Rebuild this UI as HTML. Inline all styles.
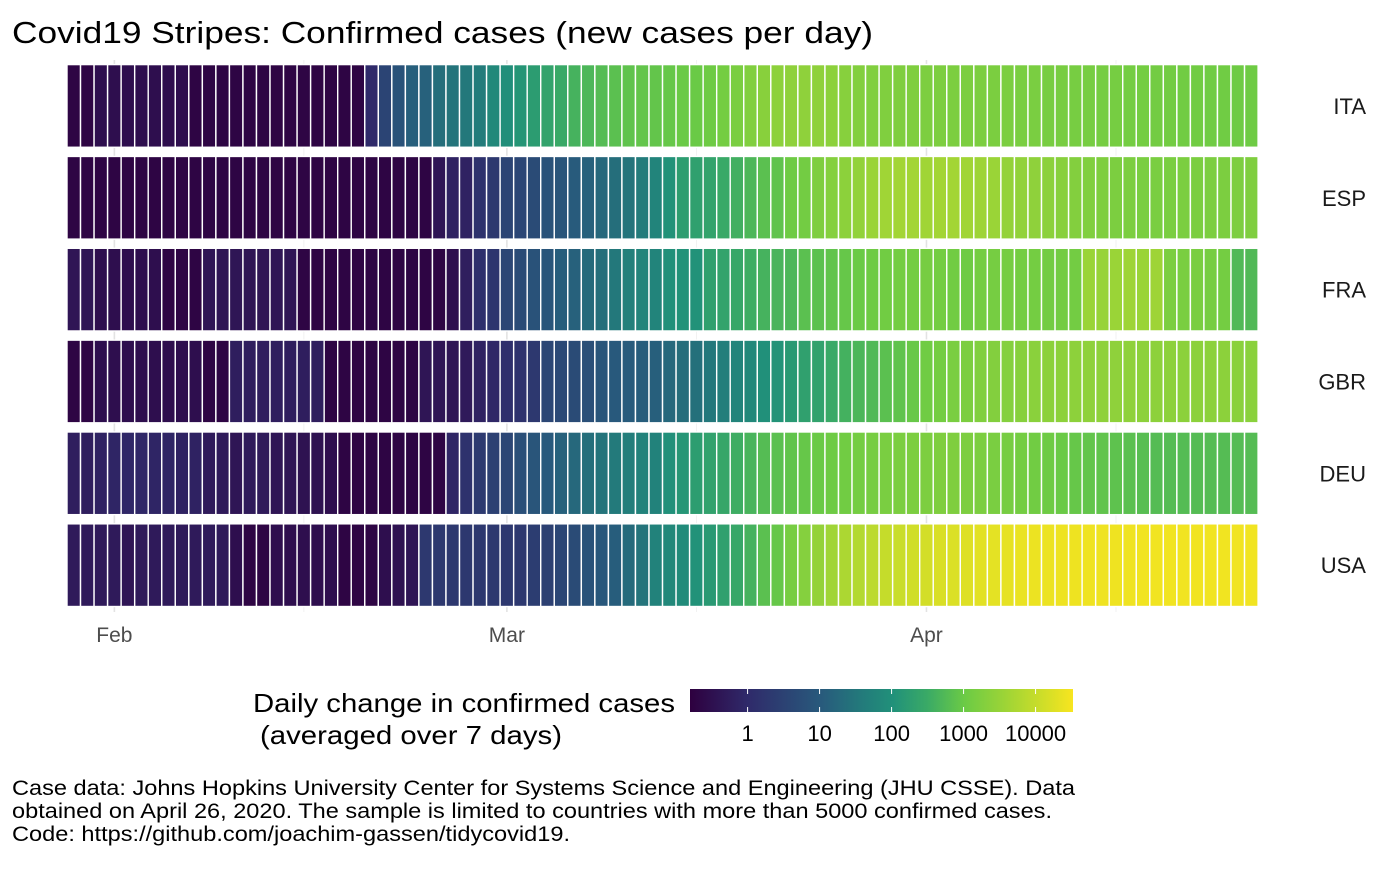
<!DOCTYPE html>
<html><head><meta charset="utf-8">
<style>
body{margin:0;background:#fff;width:1400px;height:865px;overflow:hidden;font-family:"Liberation Sans",Arial,sans-serif;}
svg text{font-family:"Liberation Sans",Arial,sans-serif;}
</style></head>
<body>
<svg id="chart" width="1400" height="865">
<defs>
<linearGradient id="vir" x1="0" x2="1" y1="0" y2="0">
<stop offset="0" stop-color="#2e003f"/><stop offset="0.151" stop-color="#2f2a6a"/><stop offset="0.342" stop-color="#285a7c"/><stop offset="0.44" stop-color="#23787b"/><stop offset="0.53" stop-color="#21917a"/><stop offset="0.62" stop-color="#3aaa66"/><stop offset="0.718" stop-color="#6ccb45"/><stop offset="0.81" stop-color="#97d338"/><stop offset="0.903" stop-color="#c5dc2b"/><stop offset="1" stop-color="#f8e51f"/>
</linearGradient>
</defs>
<text x="12" y="43" font-size="31" fill="#000" textLength="861" lengthAdjust="spacingAndGlyphs">Covid19 Stripes: Confirmed cases (new cases per day)</text>
<g id="grid"></g>
<g id="tiles"></g>
<g id="ylabels"></g>
<g id="xlabels"></g>
<g>
<text x="253" y="712" font-size="26" textLength="422" lengthAdjust="spacingAndGlyphs">Daily change in confirmed cases</text>
<text x="260" y="744" font-size="26" textLength="302" lengthAdjust="spacingAndGlyphs">(averaged over 7 days)</text>
<rect x="690" y="689" width="383" height="23" fill="url(#vir)"/>
<g id="legendticks"></g>
</g>
<text font-size="21" fill="#000">
<tspan x="12" y="795" textLength="1063" lengthAdjust="spacingAndGlyphs">Case data: Johns Hopkins University Center for Systems Science and Engineering (JHU CSSE). Data</tspan>
<tspan x="12" y="818" textLength="1040" lengthAdjust="spacingAndGlyphs">obtained on April 26, 2020. The sample is limited to countries with more than 5000 confirmed cases.</tspan>
<tspan x="12" y="841" textLength="558" lengthAdjust="spacingAndGlyphs">Code: https://github.com/joachim-gassen/tidycovid19.</tspan>
</text>
</svg>
<script>
const countries = ["ITA","ESP","FRA","GBR","DEU","USA"];
const startDate = "2020-01-29";
const monthTicks = ["2020-02-01","2020-03-01","2020-04-01"];
const monthLabels = ["Feb","Mar","Apr"];
const minorTicks = ["2020-02-15","2020-03-15","2020-04-15"];
const legendBreaks = [1,10,100,1000,10000];
const legendLabels = ["1","10","100","1000","10000"];
const ITA = [0.2,0.2,0.3,0.3,0.3,0.3,0.3,0.3,0.3,0.2,0.2,0.2,0.2,0.2,0.2,0.2,0.2,0.2,0.2,0.2,0.2,0.2,1.0,3.5,7,13,14,23,30,35,42,70,90,127,170,232,300,425,500,600,700,780,850,850,900,1000,1000,1100,1300,1500,1800,2200,2500,2600,2600,2600,2400,2100,1900,1800,1750,1700,1700,1650,1650,1600,1600,1600,1550,1550,1500,1500,1450,1450,1400,1400,1350,1350,1300,1300,1250,1250,1200,1200,1150,1150,1100,1100];
const ESP = [0.2,0.2,0.2,0.2,0.2,0.2,0.2,0.2,0.2,0.2,0.2,0.2,0.2,0.2,0.2,0.2,0.2,0.2,0.2,0.2,0.2,0.2,0.2,0.2,0.2,0.2,0.2,0.4,0.7,0.7,1.5,2,3.5,4,5,7,8,11,14,18,23,30,42,60,110,180,200,232,300,380,500,700,780,1100,1250,1700,2000,2400,2800,3500,4000,4300,4300,4000,4300,4300,4100,3800,3500,3000,2800,2600,2400,2200,1900,1800,1700,1600,1600,1500,1500,1500,1550,1550,1600,1600,1650,1700];
const FRA = [0.4,0.4,0.3,0.3,0.3,0.3,0.3,0.2,0.2,0.2,0.4,0.4,0.4,0.4,0.4,0.4,0.4,0.2,0.2,0.2,0.2,0.2,0.2,0.2,0.2,0.2,0.2,0.2,0.3,0.6,1.3,1.7,4,5,7,8,12,14,20,24,35,50,60,60,100,110,110,200,230,280,350,420,460,500,700,720,800,900,1000,1100,1200,1300,1300,1400,1300,1200,1100,1300,1350,1350,1300,1300,1250,1250,1250,3500,3300,3500,3800,3500,3800,1600,1500,1500,1400,1300,550,550];
const GBR = [0.2,0.2,0.3,0.3,0.3,0.3,0.3,0.3,0.3,0.3,0.2,0.2,0.6,0.6,0.6,0.6,0.6,0.6,0.6,0.2,0.2,0.2,0.2,0.2,0.2,0.2,0.4,0.4,0.4,0.5,0.7,0.9,1.3,1.5,2,4,4.5,5,6,8,10,11,12,13,18,22,25,35,45,60,70,100,115,150,200,220,300,400,480,550,700,780,950,1150,1300,1500,1600,1800,1900,2000,2100,2300,2400,2500,2500,2600,2600,2600,2600,2500,2500,2500,2400,2400,2400,2400,2300,2300];
const DEU = [0.6,0.6,0.7,0.8,0.9,0.9,0.8,0.8,0.7,0.7,0.5,0.5,0.4,0.5,0.5,0.4,0.4,0.35,0.35,0.3,0.2,0.2,0.2,0.2,0.2,0.2,0.2,0.2,0.8,1.5,2.2,3,4,6,8,10,14,18,24,30,38,45,55,55,100,130,180,220,260,350,450,600,700,800,900,1000,1100,1200,1300,1400,1500,1550,1600,1650,1700,1700,1650,1600,1500,1400,1300,1200,1100,1000,900,850,800,750,700,650,600,600,600,600,600,600,600,600];
const USA = [0.5,0.5,0.5,0.5,0.4,0.5,0.5,0.5,0.5,0.5,0.5,0.5,0.3,0.2,0.2,0.3,0.3,0.3,0.3,0.3,0.2,0.2,0.2,0.3,0.35,0.4,2,2,2,2,2,2,2,2,2.5,3,4,5,7,9,12,20,30,55,70,80,110,150,200,280,420,700,900,1400,2000,3000,4000,5500,6500,8000,10000,11000,13000,14000,16000,17000,18000,20000,21000,22000,24000,25000,25000,26000,26000,27000,27000,27000,27000,28000,28000,28000,28000,28000,28000,28000,28000,28000];
const series = [ITA,ESP,FRA,GBR,DEU,USA];

const NS = "http://www.w3.org/2000/svg";
const X0 = 67, DAYW = 13.535, Y0 = 60, BAND = 91.85;
const LMIN = -0.8, LMAX = 4.52;
const t0 = Date.parse(startDate);
function dayIndex(d){return Math.round((Date.parse(d)-t0)/86400000);}
function xScale(i){return X0 + (i+0.5)*DAYW;}
function yScale(r){return Y0 + (r+0.5)*BAND;}
function legendX(v){return 690 + (Math.log10(v)-LMIN)/(LMAX-LMIN)*383;}
const stopPos=[0,0.151,0.342,0.44,0.53,0.62,0.718,0.81,0.903,1];
const stops=["#2e003f","#2f2a6a","#285a7c","#23787b","#21917a","#3aaa66","#6ccb45","#97d338","#c5dc2b","#f8e51f"];
function hex(h){return [1,3,5].map(k=>parseInt(h.substr(k,2),16));}
function color(v){
  let t=(Math.log10(v)-LMIN)/(LMAX-LMIN); t=Math.max(0,Math.min(1,t));
  let i=0; while(i<stopPos.length-2 && t>stopPos[i+1]) i++;
  const f=(t-stopPos[i])/(stopPos[i+1]-stopPos[i]);
  const a=hex(stops[i]), b=hex(stops[i+1]);
  return "rgb("+a.map((c,k)=>Math.round(c+(b[k]-c)*f)).join(",")+")";
}
function mk(tag,attrs,parent){const e=document.createElementNS(NS,tag);for(const k in attrs)e.setAttribute(k,attrs[k]);parent.appendChild(e);return e;}

const grid=document.getElementById("grid");
monthTicks.forEach(d=>{
  const l=mk("line",{x1:xScale(dayIndex(d)),x2:xScale(dayIndex(d)),y1:60,y2:612,stroke:"#e3e3e3","stroke-width":1.6},grid);
  
  
});
minorTicks.forEach(d=>{
  const l=mk("line",{x1:xScale(dayIndex(d)),x2:xScale(dayIndex(d)),y1:60,y2:612,stroke:"#eeeeee","stroke-width":0.8},grid);
  
  
});
const tiles=document.getElementById("tiles");
series.forEach((vals,r)=>{
  vals.forEach((v,i)=>{
    const rc=mk("rect",{x:xScale(i)-DAYW/2,y:yScale(r)-BAND*0.45,width:DAYW,height:BAND*0.9,fill:color(v),stroke:"#fff","stroke-width":1.4},tiles);
    
    
  });
});
const yl=document.getElementById("ylabels");
countries.forEach((c,r)=>{
  const t=mk("text",{x:1366,y:yScale(r)+8,"text-anchor":"end","font-size":22,fill:"#1a1a1a"},yl);
  t.textContent=c;
  
  
});
const xl=document.getElementById("xlabels");
monthTicks.forEach((d,k)=>{
  const t=mk("text",{x:xScale(dayIndex(d)),y:642,"text-anchor":"middle","font-size":21,fill:"#4d4d4d"},xl);
  t.textContent=monthLabels[k];
  
  
});
const lt=document.getElementById("legendticks");
legendBreaks.forEach((b,k)=>{
  const x=legendX(b);
  const a=mk("line",{x1:x,x2:x,y1:689,y2:694,stroke:"#fff","stroke-width":1},lt);
  
  
  const c=mk("line",{x1:x,x2:x,y1:707,y2:712,stroke:"#fff","stroke-width":1},lt);
  
  
  const t=mk("text",{x:x,y:741,"text-anchor":"middle","font-size":22,fill:"#000"},lt);
  t.textContent=legendLabels[k];
  
  
});
</script>
</body></html>
